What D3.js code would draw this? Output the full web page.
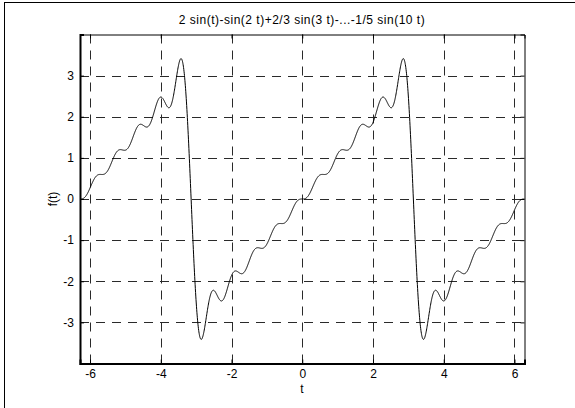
<!DOCTYPE html>
<html><head><meta charset="utf-8">
<script src="https://cdn.jsdelivr.net/npm/d3@7"></script>
<style>
html,body{margin:0;padding:0;background:#fff;}
svg{display:block;font-family:"Liberation Sans",Arial,sans-serif;}
</style></head>
<body>
<svg id="c" width="575" height="408"></svg>
<script>
// Data: Fourier coefficients as given in the title (sin(k t) terms, k = 1..10)
const harmonicCoefs = [2, -1, 2/3, -1/2, 2/5, -1/3, 2/7, -1/4, 2/9, -1/5];
const xTicks = [-6, -4, -2, 0, 2, 4, 6];
const yTicks = [-3, -2, -1, 0, 1, 2, 3];
const titleText = "2 sin(t)-sin(2 t)+2/3 sin(3 t)-...-1/5 sin(10 t)";
const xLabel = "t";
const yLabel = "f(t)";

const svg = d3.select("#c");
const L = 80, R = 524.5, T = 34.5, B = 363.5;
const x = d3.scaleLinear().domain([-2*Math.PI, 2*Math.PI]).range([L, R]);
const y = d3.scaleLinear().domain([-4, 4]).range([B, T]);
const FONT = '"Liberation Sans",Arial,sans-serif';

// figure border
svg.append("rect").attr("x", 4.5).attr("y", 2.5).attr("width", 600).attr("height", 440)
  .attr("fill", "none").attr("stroke", "#000").attr("stroke-width", 1);

// grid
const g = svg.append("g");
g.selectAll(".vg").data(xTicks).join("line")
  .attr("x1", d => Math.round(x(d)) + 0.5).attr("x2", d => Math.round(x(d)) + 0.5)
  .attr("y1", T).attr("y2", B)
  .attr("stroke", "#2a2a2a").attr("stroke-dasharray", "9,7");
g.selectAll(".hg").data(yTicks).join("line")
  .attr("y1", d => Math.round(y(d)) + 0.5).attr("y2", d => Math.round(y(d)) + 0.5)
  .attr("x1", L).attr("x2", R)
  .attr("stroke", "#2a2a2a").attr("stroke-dasharray", "9,7");

// curve
const samples = d3.range(0, 2001).map(i => {
  const t = -2*Math.PI + i * (4*Math.PI/2000);
  let v = 0;
  harmonicCoefs.forEach((c, k) => { v += c * Math.sin((k + 1) * t); });
  return [t, v];
});
svg.append("path").datum(samples)
  .attr("d", d3.line().x(d => x(d[0])).y(d => y(d[1])))
  .attr("fill", "none").attr("stroke", "#000").attr("stroke-width", 1);

// axes
const fs = 12;
const fmt = d => String(d);
const axB = svg.append("g").attr("transform", `translate(0,${B})`)
  .call(d3.axisBottom(x).tickValues(xTicks).tickSize(-4).tickPadding(6).tickFormat(fmt));
const axT = svg.append("g").attr("transform", `translate(0,${T})`)
  .call(d3.axisTop(x).tickValues(xTicks).tickSize(-4).tickFormat(""));
const axL = svg.append("g").attr("transform", `translate(${L},0)`)
  .call(d3.axisLeft(y).tickValues(yTicks).tickSize(-4).tickPadding(6).tickFormat(fmt));
const axR = svg.append("g").attr("transform", `translate(${R},0)`)
  .call(d3.axisRight(y).tickValues(yTicks).tickSize(-4).tickFormat(""));
[axB, axT, axL, axR].forEach(a => {
  a.select(".domain").attr("stroke", "#000");
  a.selectAll(".tick line").attr("stroke", "#000");
  a.selectAll("text").attr("font-size", fs).attr("font-family", FONT).attr("fill", "#000");
});
axB.select(".domain").attr("stroke-width", 2);
axL.select(".domain").attr("stroke-width", 2);

// title and labels
svg.append("text").attr("x", 302).attr("y", 23.5).attr("text-anchor", "middle")
  .attr("font-size", fs).attr("letter-spacing", "0.5px").text(titleText);
svg.append("text").attr("x", 302).attr("y", 393).attr("text-anchor", "middle")
  .attr("font-size", fs).text(xLabel);
svg.append("text").attr("transform", `translate(57,${(T + B) / 2}) rotate(-90)`)
  .attr("text-anchor", "middle").attr("font-size", fs).text(yLabel);
</script>
</body></html>
